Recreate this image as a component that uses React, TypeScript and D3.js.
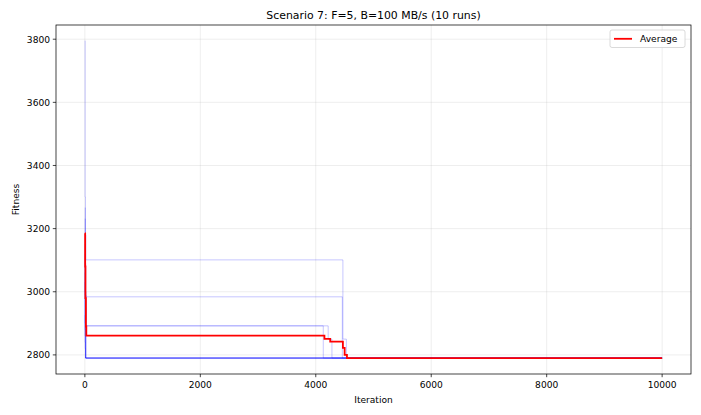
import React from "react";
import * as d3 from "d3";

type Pt = [number, number];

const title = "Scenario 7: F=5, B=100 MB/s (10 runs)";
const xTicks = [0, 2000, 4000, 6000, 8000, 10000];
const yTicks = [2800, 3000, 3200, 3400, 3600, 3800];

// each run: step breakpoints [iteration, best fitness]
const run1: Pt[] = [[0, 3795], [4, 3300], [10, 2950], [18, 2790], [10000, 2790]];
const run2: Pt[] = [[0, 3266], [6, 3180], [16, 3101], [4470, 2850], [4530, 2790], [10000, 2790]];
const run3: Pt[] = [[0, 3231], [6, 3090], [15, 2984], [4460, 2790], [10000, 2790]];
const run4: Pt[] = [[0, 3180], [7, 3000], [18, 2892], [4130, 2790], [10000, 2790]];
const run5: Pt[] = [[0, 3150], [6, 2990], [20, 2892], [4215, 2850], [4280, 2790], [10000, 2790]];
const run6: Pt[] = [[0, 3120], [5, 2900], [14, 2790], [10000, 2790]];
const run7: Pt[] = [[0, 3090], [6, 2880], [16, 2790], [10000, 2790]];
const run8: Pt[] = [[0, 3060], [5, 2860], [12, 2790], [10000, 2790]];
const run9: Pt[] = [[0, 3030], [4, 2840], [10, 2790], [10000, 2790]];
const run10: Pt[] = [[0, 2925], [5, 2820], [12, 2790], [10000, 2790]];
const runs = [run1, run2, run3, run4, run5, run6, run7, run8, run9, run10];

const average: Pt[] = [
  [0, 3185], [5, 3080], [10, 2980], [18, 2890], [25, 2861],
  [4150, 2851], [4250, 2842], [4470, 2822], [4500, 2800], [4540, 2790], [10000, 2790],
];

const W = 701;
const H = 415;
const m = { left: 56, right: 691, top: 25, bottom: 374 };
const font = "DejaVu Sans, sans-serif";

const App = () => {
  const x = d3.scaleLinear().domain([-500, 10500]).range([m.left, m.right]);
  const y = d3.scaleLinear().domain([2739.5, 3845]).range([m.bottom, m.top]);
  const step = d3.line<Pt>().x(d => x(d[0])).y(d => y(d[1])).curve(d3.curveStepAfter);

  return (
    <svg width={W} height={H} style={{ position: "absolute", left: 0, top: 0, background: "#fff" }}
      fontFamily={font}>
      <rect x={0} y={0} width={W} height={H} fill="#fff" />
      <defs>
        <clipPath id="plot">
          <rect x={m.left} y={m.top} width={m.right - m.left} height={m.bottom - m.top} />
        </clipPath>
      </defs>
      {/* grid */}
      {xTicks.map(t => (
        <line key={"gx" + t} x1={x(t)} x2={x(t)} y1={m.top} y2={m.bottom}
          stroke="#b0b0b0" strokeOpacity={0.3} strokeWidth={0.73} />
      ))}
      {yTicks.map(t => (
        <line key={"gy" + t} x1={m.left} x2={m.right} y1={y(t)} y2={y(t)}
          stroke="#b0b0b0" strokeOpacity={0.3} strokeWidth={0.73} />
      ))}
      <g clipPath="url(#plot)">
        {runs.map((r, i) => (
          <path key={i} d={step(r) || ""} fill="none" stroke="blue"
            strokeOpacity={0.3} strokeWidth={0.75} />
        ))}
        <path d={step(average) || ""} fill="none" stroke="red" strokeWidth={1.8} />
      </g>
      {/* spines */}
      <rect x={m.left} y={m.top} width={m.right - m.left} height={m.bottom - m.top}
        fill="none" stroke="#000" strokeWidth={0.73} />
      {/* x ticks */}
      {xTicks.map(t => (
        <g key={"xt" + t}>
          <line x1={x(t)} x2={x(t)} y1={m.bottom} y2={m.bottom + 3.2} stroke="#000" strokeWidth={0.73} />
          <text x={x(t)} y={m.bottom + 13.5} fontSize={9.1} textAnchor="middle" fill="#000">{t}</text>
        </g>
      ))}
      {yTicks.map(t => (
        <g key={"yt" + t}>
          <line x1={m.left - 3.2} x2={m.left} y1={y(t)} y2={y(t)} stroke="#000" strokeWidth={0.73} />
          <text x={m.left - 6} y={y(t) + 3.3} fontSize={9.1} textAnchor="end" fill="#000">{t}</text>
        </g>
      ))}
      <text x={(m.left + m.right) / 2} y={403} fontSize={9.1} textAnchor="middle">Iteration</text>
      <text transform={`translate(19,${(m.top + m.bottom) / 2}) rotate(-90)`} fontSize={9.1}
        textAnchor="middle">Fitness</text>
      <text x={(m.left + m.right) / 2} y={19} fontSize={10.9} textAnchor="middle">{title}</text>
      {/* legend */}
      <rect x={610} y={30} width={75} height={17.5} rx={2} fill="#fff" fillOpacity={0.8}
        stroke="#cccccc" strokeWidth={0.73} />
      <line x1={614} x2={632} y1={38.8} y2={38.8} stroke="red" strokeWidth={1.8} />
      <text x={640} y={42} fontSize={9.1}>Average</text>
    </svg>
  );
};

export default App;
